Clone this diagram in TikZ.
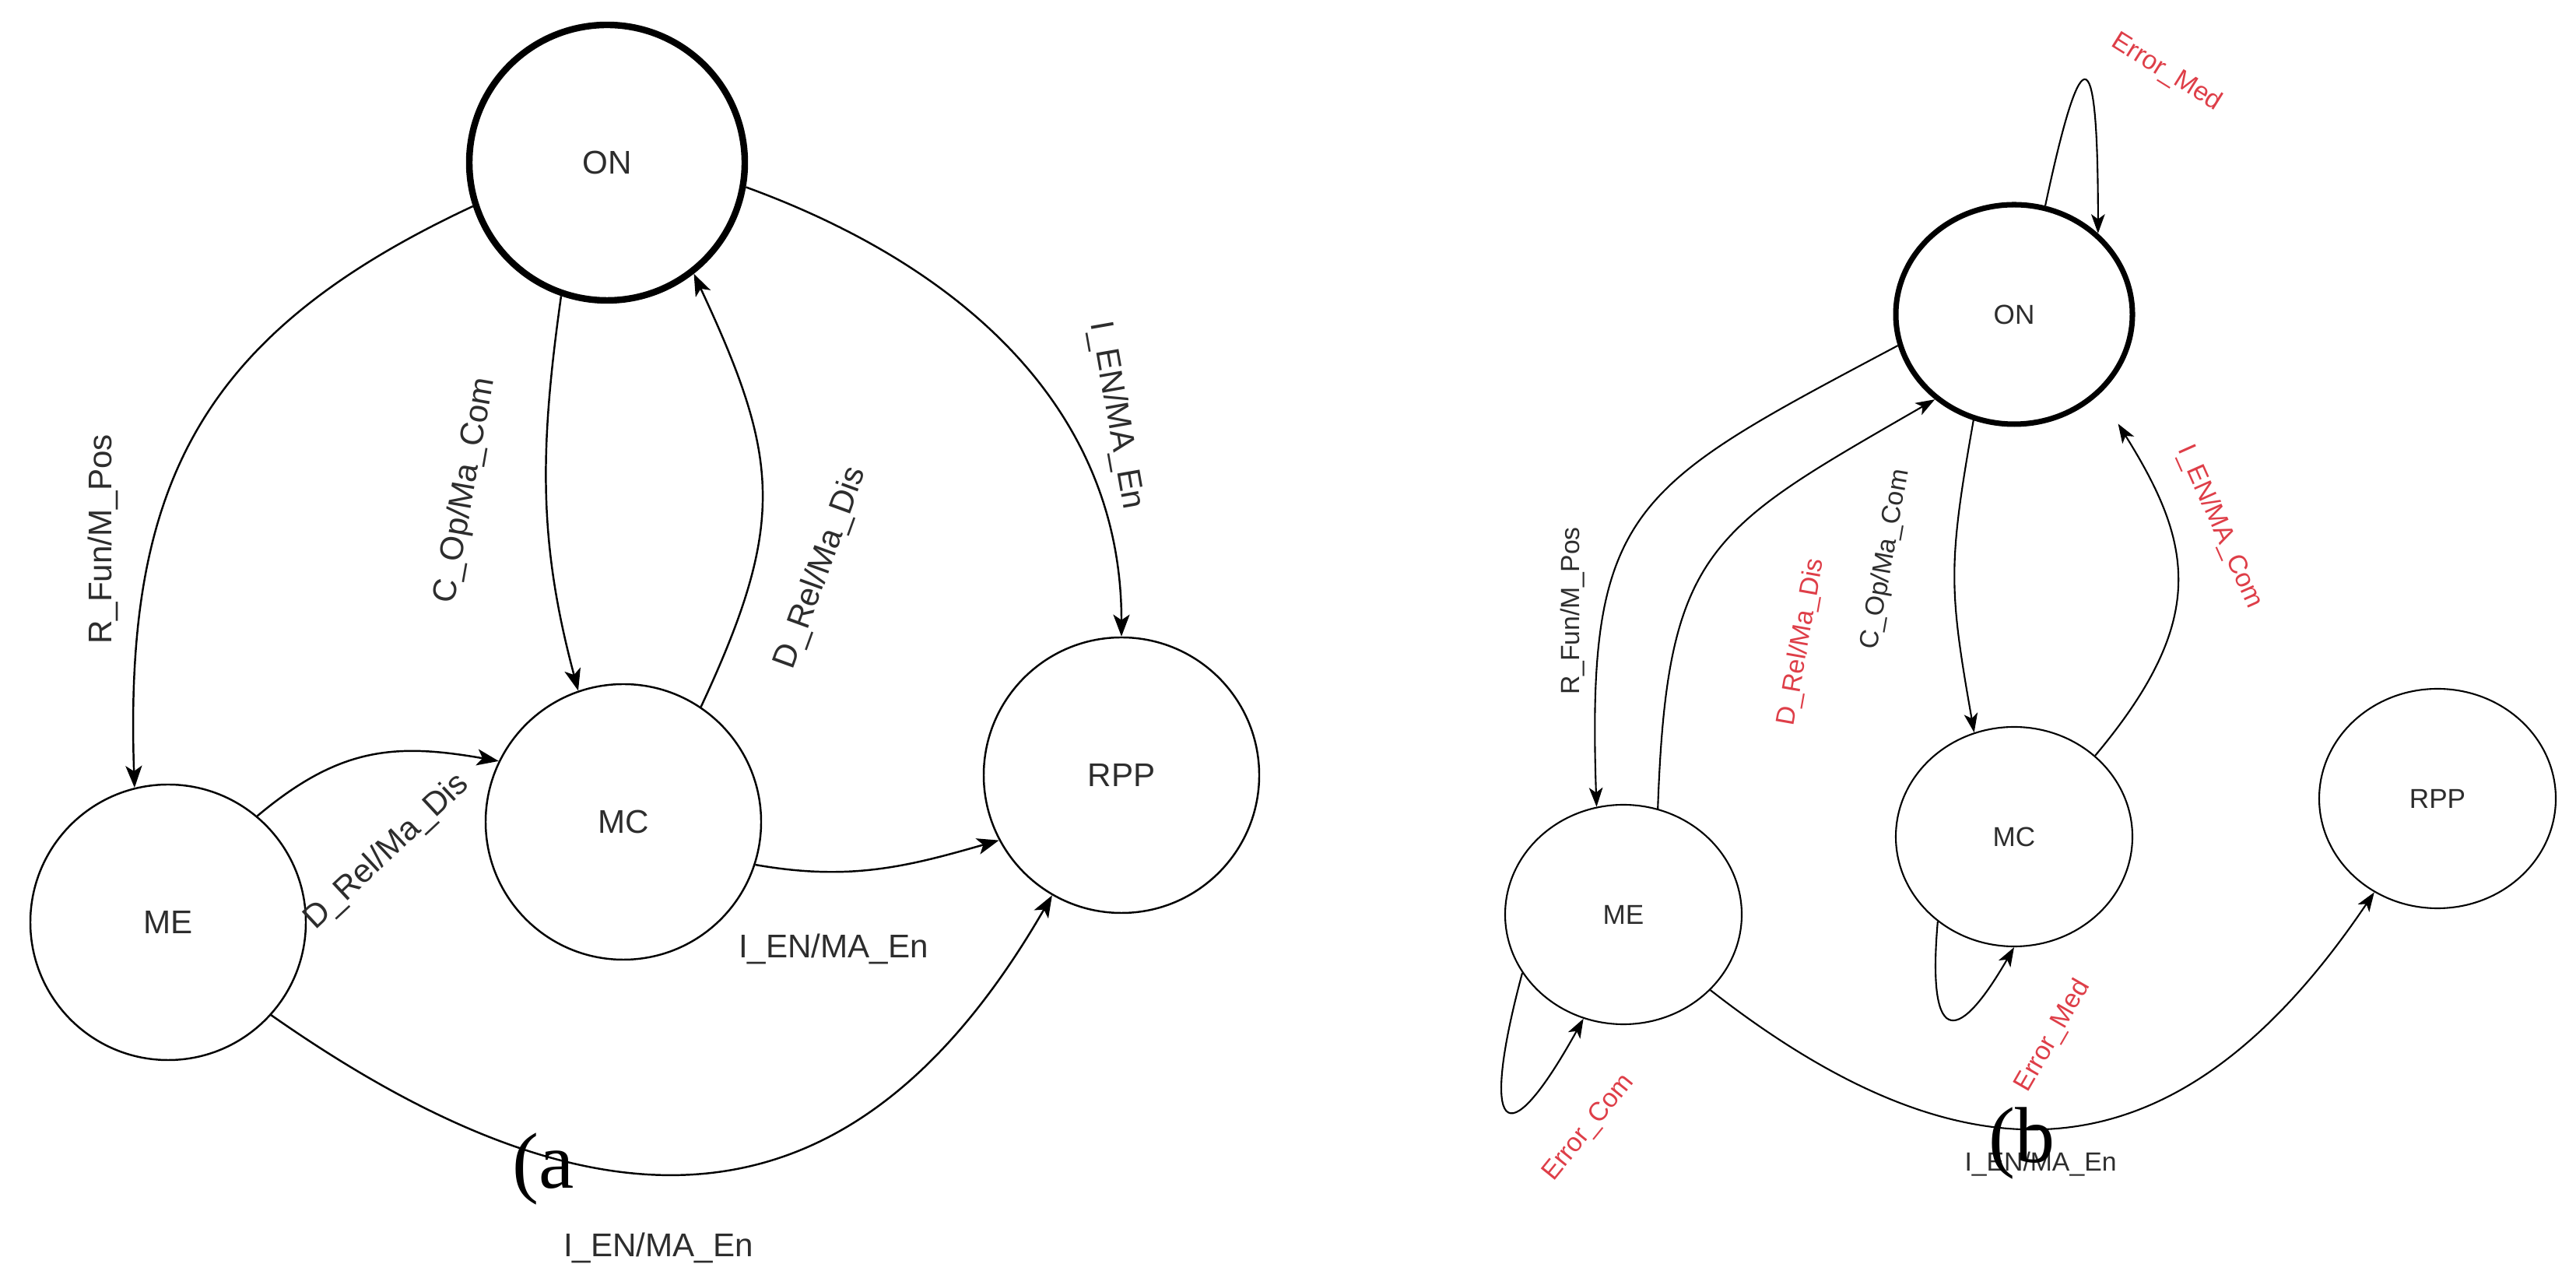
\documentclass[tikz,border=0pt]{standalone}
\usepackage{fontspec}
\setmainfont{Liberation Serif}
\newfontfamily\lblfont{Liberation Sans}
\usetikzlibrary{arrows.meta,shapes.geometric}
\definecolor{errred}{RGB}{222,62,72}
\definecolor{inkgray}{RGB}{45,45,45}
\begin{document}
\begin{tikzpicture}[
    statea/.style={draw, circle, line width=0.7pt, minimum size=3.54cm, text=inkgray, font=\lblfont\fontsize{12}{14}\selectfont},
    stateb/.style={draw, ellipse, line width=0.6pt, minimum width=3.04cm, minimum height=2.82cm, text=inkgray, font=\lblfont\fontsize{10}{12}\selectfont},
    onborder/.style={line width=2.4pt},
    tra/.style={line width=0.7pt, -{Stealth[length=8pt,width=6pt,inset=2pt]}},
    trb/.style={line width=0.6pt, -{Stealth[length=7pt,width=5pt,inset=1.8pt]}},
    lbla/.style={text=inkgray, font=\lblfont\fontsize{12}{14}\selectfont},
    lblb/.style={text=inkgray, font=\lblfont\fontsize{9.6}{11}\selectfont},
    errb/.style={lblb, text=errred},
    tag/.style={font=\fontsize{29}{31}\selectfont}
  ]
    \useasboundingbox (0,0) rectangle (33.10,16.51);

    % (a) states
    \node[statea, onborder] at (7.80,14.42) (onA)  {ON};
    \node[statea]           at (2.16,4.66)  (meA)  {ME};
    \node[statea]           at (8.01,5.95)  (mcA)  {MC};
    \node[statea]           at (14.41,6.55) (rppA) {RPP};

    % (a) transitions
    \draw[tra] (onA.198) to[out=205,in=92,looseness=1.15] (meA.104);
    \draw[tra] (onA.251) to[out=262,in=105] (mcA.109);
    \draw[tra] (mcA.56)  to[out=65,in=-65,looseness=1.2] (onA.308);
    \draw[tra] (onA.-10) to[out=-20,in=90] (rppA.90);
    \draw[tra] (meA.50)  to[out=40,in=170,looseness=1.1] (mcA.154);
    \draw[tra] (mcA.-18) to[out=-10,in=196] (rppA.208);
    \draw[tra] (meA.-42) to[out=-35,in=240,looseness=1.3] (rppA.240);

    % (a) labels
    \node[lbla, rotate=90]  at (1.32,9.58)  (lRFunA)  {R\_Fun/M\_Pos};
    \node[lbla, rotate=80]  at (5.98,10.21) (lCOpA)   {C\_Op/Ma\_Com};
    \node[lbla, rotate=70]  at (10.55,9.21) (lDRelA)  {D\_Rel/Ma\_Dis};
    \node[lbla, rotate=-80] at (14.34,11.17) (lIEnA)  {I\_EN/MA\_En};
    \node[lbla, rotate=43]  at (4.97,5.56)  (lDRelMeA) {D\_Rel/Ma\_Dis};
    \node[lbla]             at (10.71,4.32) (lIEnMcA) {I\_EN/MA\_En};
    \node[lbla]             at (8.46,0.48)  (lIEnMeA) {I\_EN/MA\_En};
    \node[tag]              at (6.98,1.49)  (tagA)    {(a};

    % (b) states
    \node[stateb, line width=2pt] at (25.88,12.47) (onB)  {ON};
    \node[stateb]                 at (20.86,4.76)  (meB)  {ME};
    \node[stateb]                 at (25.88,5.76)  (mcB)  {MC};
    \node[stateb]                 at (31.32,6.25)  (rppB) {RPP};

    % (b) transitions
    \draw[trb] (onB.74)  to[out=78,in=90,looseness=8] (onB.44);
    \draw[trb] (onB.195) to[out=208,in=92,looseness=1.4] (meB.104);
    \draw[trb] (meB.72)  to[out=88,in=210,looseness=1.35] (onB.227);
    \draw[trb] (onB.249) to[out=260,in=100,looseness=1.2] (mcB.111);
    \draw[trb, shorten >=0.45cm] (mcB.45) to[out=50,in=-58,looseness=1.25] (onB.317);
    \draw[trb] (mcB.228) to[out=265,in=240,looseness=3.8] (mcB.270);
    \draw[trb] (meB.210) to[out=255,in=241,looseness=5.5] (meB.249);
    \draw[trb] (meB.-41) to[out=-38,in=236,looseness=1.3] (rppB.236);

    % (b) labels
    \node[errb, rotate=-32] at (27.84,15.58) (lErrOnB)  {Error\_Med};
    \node[lblb, rotate=90]  at (20.21,8.66)  (lRFunB)   {R\_Fun/M\_Pos};
    \node[errb, rotate=80]  at (23.15,8.26)  (lDRelB)   {D\_Rel/Ma\_Dis};
    \node[lblb, rotate=80]  at (24.23,9.32)  (lCOpB)    {C\_Op/Ma\_Com};
    \node[errb, rotate=-66] at (28.52,9.74)  (lIEnB)    {I\_EN/MA\_Com};
    \node[errb, rotate=60]  at (26.38,3.20)  (lErrMcB)  {Error\_Med};
    \node[errb, rotate=51]  at (20.42,2.02)  (lErrMeB)  {Error\_Com};
    \node[lblb]             at (26.22,1.55)  (lIEnMeB)  {I\_EN/MA\_En};
    \node[tag]              at (25.98,1.82)  (tagB)     {(b};

  \end{tikzpicture}
\end{document}
